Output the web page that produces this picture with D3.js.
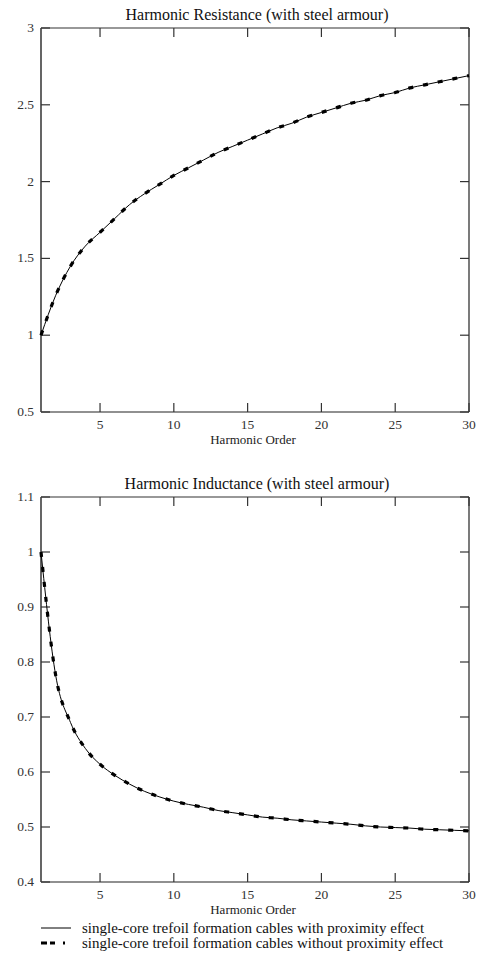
<!DOCTYPE html>
<html>
<head>
<meta charset="utf-8">
<script src="https://cdn.jsdelivr.net/npm/d3@7"></script>
<style>
  body { margin: 0; background: #fff; }
  svg { display: block; font-family: "Liberation Serif", "Times New Roman", serif; }
</style>
</head>
<body>
<div id="chart"></div>
<script>
// Harmonic orders 1..30
const harmonics = d3.range(1, 31);

// Resistance ratio (with steel armour)
const resistanceWith = [1.00, 1.26, 1.45, 1.58, 1.67, 1.76, 1.85, 1.92, 1.98, 2.04,
  2.09, 2.14, 2.19, 2.23, 2.27, 2.31, 2.35, 2.38, 2.42, 2.45,
  2.48, 2.51, 2.53, 2.56, 2.58, 2.61, 2.63, 2.65, 2.67, 2.69];
const resistanceWithout = [1.00, 1.26, 1.45, 1.58, 1.67, 1.76, 1.85, 1.92, 1.98, 2.04,
  2.09, 2.14, 2.19, 2.23, 2.27, 2.31, 2.35, 2.38, 2.42, 2.45,
  2.48, 2.51, 2.53, 2.56, 2.58, 2.61, 2.63, 2.65, 2.67, 2.69];

// Inductance ratio (with steel armour)
const inductanceWith = [1.00, 0.775, 0.69, 0.643, 0.614, 0.594, 0.578, 0.565, 0.555, 0.547,
  0.541, 0.536, 0.530, 0.526, 0.522, 0.518, 0.516, 0.513, 0.511, 0.509,
  0.507, 0.505, 0.502, 0.500, 0.499, 0.498, 0.496, 0.495, 0.494, 0.493];
const inductanceWithout = [1.00, 0.775, 0.69, 0.643, 0.614, 0.594, 0.578, 0.565, 0.555, 0.547,
  0.541, 0.536, 0.530, 0.526, 0.522, 0.518, 0.516, 0.513, 0.511, 0.509,
  0.507, 0.505, 0.502, 0.500, 0.499, 0.498, 0.496, 0.495, 0.494, 0.493];

const xTicks = [5, 10, 15, 20, 25, 30];
const resistanceTicks = [0.5, 1, 1.5, 2, 2.5, 3];
const inductanceTicks = [0.4, 0.5, 0.6, 0.7, 0.8, 0.9, 1, 1.1];
const legendLabels = [
  "single-core trefoil formation cables with proximity effect",
  "single-core trefoil formation cables without proximity effect"
];

const W = 479, H = 961;
const svg = d3.select("#chart").append("svg")
  .attr("width", W)
  .attr("height", H);

const left = 41, right = 469;

function drawPanel(opts) {
  const x = d3.scaleLinear().domain([1, 30]).range([left, right]);
  const y = d3.scaleLinear().domain(opts.yDomain).range([opts.bottom, opts.top]);
  const g = svg.append("g");

  // frame
  g.append("line").attr("x1", left).attr("x2", right).attr("y1", opts.top).attr("y2", opts.top)
    .attr("stroke", "#333").attr("stroke-width", 1.2);
  g.append("line").attr("x1", left).attr("x2", right).attr("y1", opts.bottom).attr("y2", opts.bottom)
    .attr("stroke", "#222").attr("stroke-width", 1.2);
  g.append("line").attr("x1", right).attr("x2", right).attr("y1", opts.top).attr("y2", opts.bottom)
    .attr("stroke", "#222").attr("stroke-width", 1.2);
  g.append("line").attr("x1", left).attr("x2", left).attr("y1", opts.top).attr("y2", opts.bottom)
    .attr("stroke", "#555").attr("stroke-width", 1.8);

  // x ticks (inside, top & bottom)
  const tickLen = 9;
  xTicks.forEach(t => {
    g.append("line").attr("x1", x(t)).attr("x2", x(t))
      .attr("y1", opts.bottom).attr("y2", opts.bottom - tickLen)
      .attr("stroke", "#333").attr("stroke-width", 1.2);
    g.append("line").attr("x1", x(t)).attr("x2", x(t))
      .attr("y1", opts.top).attr("y2", opts.top + tickLen)
      .attr("stroke", "#333").attr("stroke-width", 1.2);
    g.append("text").attr("x", x(t)).attr("y", opts.bottom + 16.5)
      .attr("text-anchor", "middle").attr("font-size", 13.5).attr("fill", "#333")
      .text(t);
  });

  // y ticks (inside, left & right)
  opts.yTicks.forEach(t => {
    g.append("line").attr("x1", left).attr("x2", left + tickLen)
      .attr("y1", y(t)).attr("y2", y(t))
      .attr("stroke", "#333").attr("stroke-width", 1.2);
    g.append("line").attr("x1", right).attr("x2", right - tickLen)
      .attr("y1", y(t)).attr("y2", y(t))
      .attr("stroke", "#333").attr("stroke-width", 1.2);
    g.append("text").attr("x", left - 7).attr("y", y(t) + 4)
      .attr("text-anchor", "end").attr("font-size", 13.5).attr("fill", "#333")
      .text(d3.format("~g")(t));
  });

  // title & x label
  g.append("text").attr("x", 257).attr("y", opts.top - 8)
    .attr("text-anchor", "middle").attr("font-size", 16).attr("fill", "#111")
    .text(opts.title);
  g.append("text").attr("x", 253).attr("y", opts.bottom + opts.xLabelGap)
    .attr("text-anchor", "middle").attr("font-size", 13).attr("fill", "#222")
    .text("Harmonic Order");

  const line = d3.line()
    .x((d, i) => x(harmonics[i]))
    .y(d => y(d))
    .curve(d3.curveMonotoneX);

  g.append("path").datum(opts.withoutProx)
    .attr("d", line).attr("fill", "none")
    .attr("stroke", "#000").attr("stroke-width", 3.2)
    .attr("stroke-dasharray", "5,10");
  g.append("path").datum(opts.withProx)
    .attr("d", line).attr("fill", "none")
    .attr("stroke", "#000").attr("stroke-width", 1);
}

drawPanel({
  top: 28, bottom: 412, yDomain: [0.5, 3], yTicks: resistanceTicks,
  title: "Harmonic Resistance (with steel armour)", xLabelGap: 32,
  withProx: resistanceWith, withoutProx: resistanceWithout
});

drawPanel({
  top: 497, bottom: 882, yDomain: [0.4, 1.1], yTicks: inductanceTicks,
  title: "Harmonic Inductance (with steel armour)", xLabelGap: 32,
  withProx: inductanceWith, withoutProx: inductanceWithout
});

// legend
const legend = svg.append("g");
legendLabels.forEach((label, i) => {
  const ly = 928 + i * 15;
  legend.append("line").attr("x1", 41).attr("x2", 71).attr("y1", ly).attr("y2", ly)
    .attr("stroke", "#000")
    .attr("stroke-width", i === 0 ? 1 : 3.2)
    .attr("stroke-dasharray", i === 0 ? null : "6,3,5,8,2,10");
  legend.append("text").attr("x", 82).attr("y", ly + 4.5)
    .attr("font-size", 15).attr("fill", "#111")
    .text(label);
});
</script>
</body>
</html>
